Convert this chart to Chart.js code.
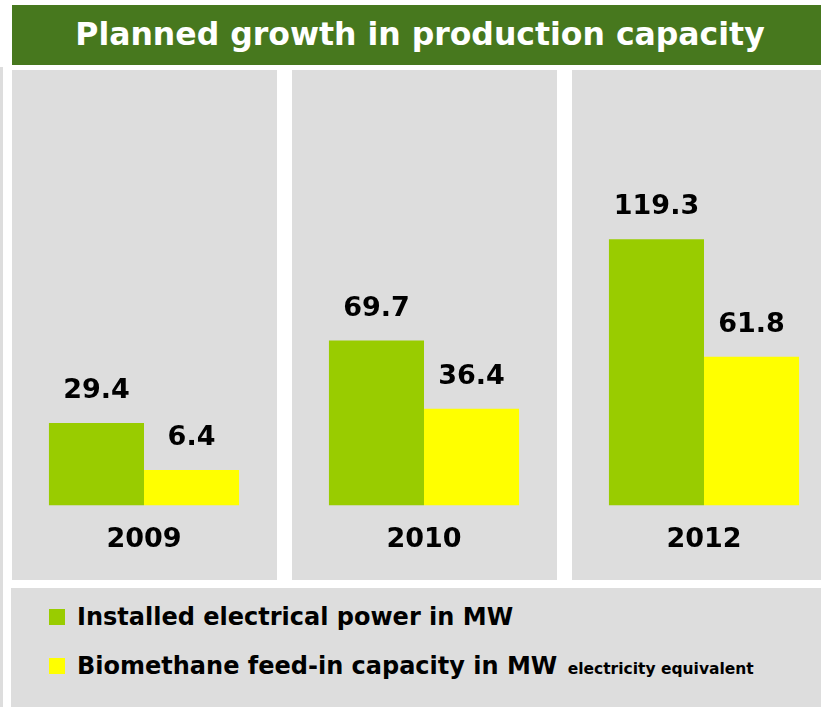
<!DOCTYPE html>
<html>
<head>
<meta charset="utf-8">
<script src="https://cdn.jsdelivr.net/npm/chart.js@4/dist/chart.umd.min.js"></script>
<style>
  html, body { margin: 0; padding: 0; }
  body { width: 821px; height: 707px; overflow: hidden; position: relative; background: #fff; font-family: 'DejaVu Sans', Verdana, sans-serif; }
  #strip { position: absolute; left: 0; top: 67px; width: 3px; height: 640px; background: #dddddd; }
  #title { position: absolute; left: 12px; top: 5px; width: 816px; height: 58px; padding-bottom: 2px; background: #47781e; color: #fff;
           font-weight: bold; font-size: 31.5px; display: flex; align-items: center; justify-content: center; }
  #chartBox { position: absolute; left: 4px; top: 70px; width: 840px; height: 510px; }
  #legend { position: absolute; left: 11px; top: 588px; width: 820px; height: 119px; background: #dddddd; }
  .item { position: absolute; left: 38px; font-weight: bold; font-size: 24px; color: #000; white-space: nowrap; }
  .item .box { display: inline-block; width: 16px; height: 16px; margin-right: 12px; }
  .item small { font-size: 15.5px; margin-left: 2px; }
</style>
</head>
<body>
<div id="strip"></div>
<div id="title">Planned growth in production capacity</div>
<div id="chartBox"><canvas id="myChart"></canvas></div>
<div id="legend"></div>
<script>
// data
const years = ['2009', '2010', '2012'];
const installedPower = [29.4, 69.7, 119.3];
const biomethaneCapacity = [6.4, 36.4, 61.8];
const seriesNames = ['Installed electrical power in MW', 'Biomethane feed-in capacity in MW'];
const seriesNotes = ['', 'electricity equivalent'];
const seriesColors = ['#99cc00', '#ffff00'];

// legend (html)
const legend = document.getElementById('legend');
seriesNames.forEach((name, i) => {
    const row = document.createElement('div');
    row.className = 'item';
    row.style.top = (15 + i * 49) + 'px';
    row.innerHTML = '<span class="box" style="background:' + seriesColors[i] + '"></span>' + name +
        (seriesNotes[i] ? ' <small>' + seriesNotes[i] + '</small>' : '');
    legend.appendChild(row);
});

// grey panel behind each year
const panels = {
    id: 'panels',
    beforeDraw(chart) {
        const c = chart.ctx;
        const x = chart.scales.x;
        c.save();
        c.fillStyle = '#dddddd';
        years.forEach((y, i) => {
            const cx = x.getPixelForValue(i);
            c.fillRect(cx - 132, 0, 265, chart.height);
        });
        c.restore();
    }
};

// numbers above bars
const valueLabels = {
    id: 'valueLabels',
    afterDatasetsDraw(chart) {
        const c = chart.ctx;
        c.save();
        c.font = 'bold 27px "DejaVu Sans"';
        c.fillStyle = '#000';
        c.textAlign = 'center';
        c.textBaseline = 'alphabetic';
        chart.data.datasets.forEach((ds, d) => {
            chart.getDatasetMeta(d).data.forEach((bar, i) => {
                c.fillText(ds.data[i].toFixed(1), bar.x, bar.y - 25);
            });
        });
        c.restore();
    }
};

const ctx = document.getElementById('myChart').getContext('2d');
const myChart = new Chart(ctx, {
    type: 'bar',
    data: {
        labels: years,
        datasets: [{
            label: seriesNames[0],
            data: installedPower,
            backgroundColor: seriesColors[0],
            base: -11,
            categoryPercentage: 0.679,
            barPercentage: 1
        }, {
            label: seriesNames[1],
            data: biomethaneCapacity,
            backgroundColor: seriesColors[1],
            base: -11,
            categoryPercentage: 0.679,
            barPercentage: 1
        }]
    },
    options: {
        responsive: true,
        maintainAspectRatio: false,
        animation: false,
        layout: { padding: { top: 0, bottom: 6, left: 0, right: 0 } },
        plugins: {
            legend: { display: false },
            tooltip: { enabled: false }
        },
        scales: {
            x: {
                grid: { display: false, drawTicks: false },
                border: { display: false },
                ticks: {
                    color: '#000',
                    padding: 18,
                    font: { family: 'DejaVu Sans', weight: 'bold', size: 27 }
                }
            },
            y: {
                display: false,
                min: -11,
                max: 202
            }
        }
    },
    plugins: [panels, valueLabels]
});
</script>
</body>
</html>
